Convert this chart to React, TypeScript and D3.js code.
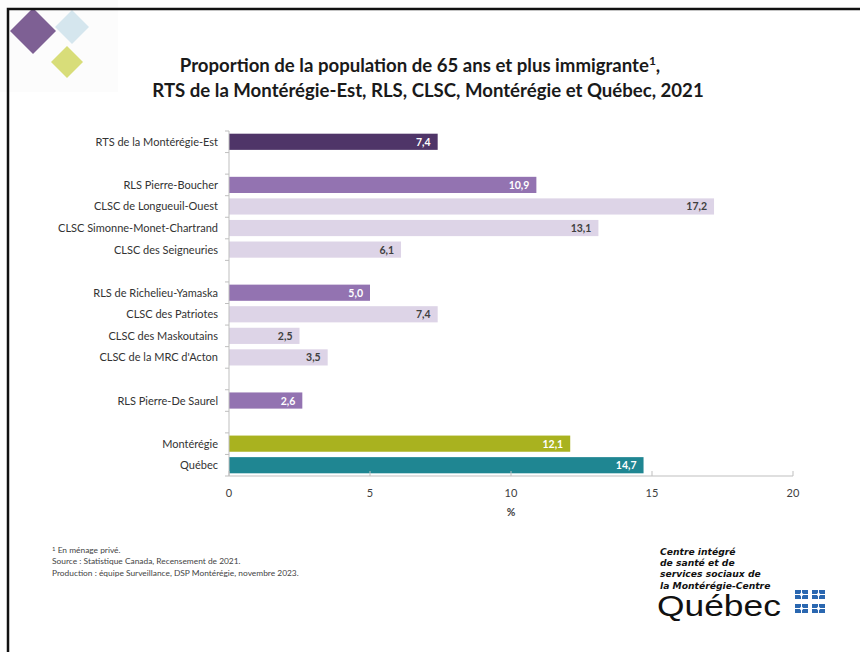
import React from "react";
import * as d3 from "d3";

const categories = [
  "RTS de la Montérégie-Est",
  "",
  "RLS Pierre-Boucher",
  "CLSC de Longueuil-Ouest",
  "CLSC Simonne-Monet-Chartrand",
  "CLSC des Seigneuries",
  " ",
  "RLS de Richelieu-Yamaska",
  "CLSC des Patriotes",
  "CLSC des Maskoutains",
  "CLSC de la MRC d'Acton",
  "  ",
  "RLS Pierre-De Saurel",
  "   ",
  "Montérégie",
  "Québec",
];
const values: (number | null)[] = [7.4, null, 10.9, 17.2, 13.1, 6.1, null, 5.0, 7.4, 2.5, 3.5, null, 2.6, null, 12.1, 14.7];
const kinds = ["rts", "", "rls", "clsc", "clsc", "clsc", "", "rls", "clsc", "clsc", "clsc", "", "rls", "", "mont", "qc"];
const xTicks = [0, 5, 10, 15, 20];
const logoLines = ["Centre intégré", "de santé et de", "services sociaux de", "la Montérégie-Centre"];

const fills: Record<string, string> = {
  rts: "#4f3568",
  rls: "#9373b1",
  clsc: "#ddd4e7",
  mont: "#a9b21f",
  qc: "#1f8692",
};
const labelColors: Record<string, string> = {
  rts: "#ffffff",
  rls: "#ffffff",
  clsc: "#404040",
  mont: "#ffffff",
  qc: "#ffffff",
};

const FONT = "Lato, 'Open Sans', sans-serif";

export default function App() {
  const W = 860, H = 652;
  const x = d3.scaleLinear().domain([0, 20]).range([229, 793]);
  const y = d3.scaleBand<number>().domain(d3.range(categories.length)).range([131, 476]).paddingInner(0.25).paddingOuter(0.125);
  const step = y.step();
  const fmt = (v: number) => d3.format(".1f")(v).replace(".", ",");

  return (
    <svg width={W} height={H} style={{ position: "absolute", left: 0, top: 0, background: "#fff" }} fontFamily={FONT}>
      <rect x={0} y={0} width={W} height={H} fill="#fff" />
      {/* decorative diamonds */}
      <rect x={0} y={0} width={118} height={92} fill="#fcfcfc" />
      <polygon points="33,8 56,31 33,54 10,31" fill="#7e6094" />
      <polygon points="72,10 89,27 72,44 55,27" fill="#d5e6ee" />
      <polygon points="67,46 83,62 67,78 51,62" fill="#d8dd79" />
      {/* frame */}
      <rect x={8} y={9} width={W + 10} height={H + 10} fill="none" stroke="#111" strokeWidth={2.5} />

      {/* title */}
      <text x={420} y={72} textAnchor="middle" fontSize={18.6} fontWeight={700} fill="#1a1a1a">
        Proportion de la population de 65 ans et plus immigrante<tspan fontSize={12} dy={-7}>1</tspan><tspan dy={7}>,</tspan>
      </text>
      <text x={428} y={97} textAnchor="middle" fontSize={18.6} fontWeight={700} fill="#1a1a1a">
        RTS de la Montérégie-Est, RLS, CLSC, Montérégie et Québec, 2021
      </text>

      {/* bars */}
      {values.map((v, i) =>
        v == null ? null : (
          <g key={i}>
            <rect x={x(0)} y={y(i)} width={x(v) - x(0)} height={y.bandwidth()} fill={fills[kinds[i]]} />
            <text x={x(v) - 7} y={(y(i) as number) + y.bandwidth() / 2 + 4} textAnchor="end" fontSize={10.5} fontWeight={700} fill={labelColors[kinds[i]]}>
              {fmt(v)}
            </text>
          </g>
        )
      )}

      {/* category labels */}
      {categories.map((c, i) =>
        c.trim() === "" ? null : (
          <text key={"l" + i} x={218} y={(y(i) as number) + y.bandwidth() / 2 + 4} textAnchor="end" fontSize={11} fill="#333">
            {c}
          </text>
        )
      )}

      {/* y axis */}
      <line x1={229} x2={229} y1={131} y2={476} stroke="#bfbfbf" strokeWidth={1} />
      {d3.range(categories.length + 1).map((i) => (
        <line key={"yt" + i} x1={225} x2={229} y1={131 + i * step} y2={131 + i * step} stroke="#bfbfbf" />
      ))}
      {/* x axis */}
      <line x1={229} x2={793} y1={476} y2={476} stroke="#bfbfbf" strokeWidth={1} />
      {xTicks.map((t) => (
        <g key={"xt" + t}>
          <line x1={x(t)} x2={x(t)} y1={471} y2={476} stroke="#bfbfbf" />
          <text x={x(t)} y={497} textAnchor="middle" fontSize={11} fill="#404040">{t}</text>
        </g>
      ))}
      <text x={511} y={516} textAnchor="middle" fontSize={10.5} fontWeight={700} fill="#404040">%</text>

      {/* footnotes */}
      <g fontSize={8.4} fill="#444">
        <text x={52} y={553}><tspan fontSize={6} dy={-2}>1</tspan><tspan dy={2}> En ménage privé.</tspan></text>
        <text x={52} y={564}>Source : Statistique Canada, Recensement de 2021.</text>
        <text x={52} y={576}>Production : équipe Surveillance, DSP Montérégie, novembre 2023.</text>
      </g>

      {/* logo */}
      <g fontSize={9.2} fontWeight={700} fontStyle="italic" fill="#111" fontFamily="'DejaVu Sans', Verdana, sans-serif">
        {logoLines.map((l, i) => (
          <text key={"lg" + i} x={660} y={555 + i * 11.2}>{l}</text>
        ))}
      </g>
      <text x={0} y={0} transform="translate(657,616) scale(1.22,1)" fontSize={29} fill="#111" fontFamily="'Liberation Sans', Arial, sans-serif">Québec</text>
      {[[795, 590], [812, 590], [795, 604], [812, 604]].map(([fx, fy], i) => (
        <g key={"f" + i}>
          <rect x={fx} y={fy} width={13} height={9} fill="#2a67b0" />
          <line x1={fx + 6.5} x2={fx + 6.5} y1={fy} y2={fy + 9} stroke="#fff" strokeWidth={1} />
          <line x1={fx} x2={fx + 13} y1={fy + 4.5} y2={fy + 4.5} stroke="#fff" strokeWidth={1} />
          <polygon points={`${fx + 6.5},${fy + 2} ${fx + 8.5},${fy + 4.5} ${fx + 6.5},${fy + 7} ${fx + 4.5},${fy + 4.5}`} fill="#fff" />
        </g>
      ))}
    </svg>
  );
}
